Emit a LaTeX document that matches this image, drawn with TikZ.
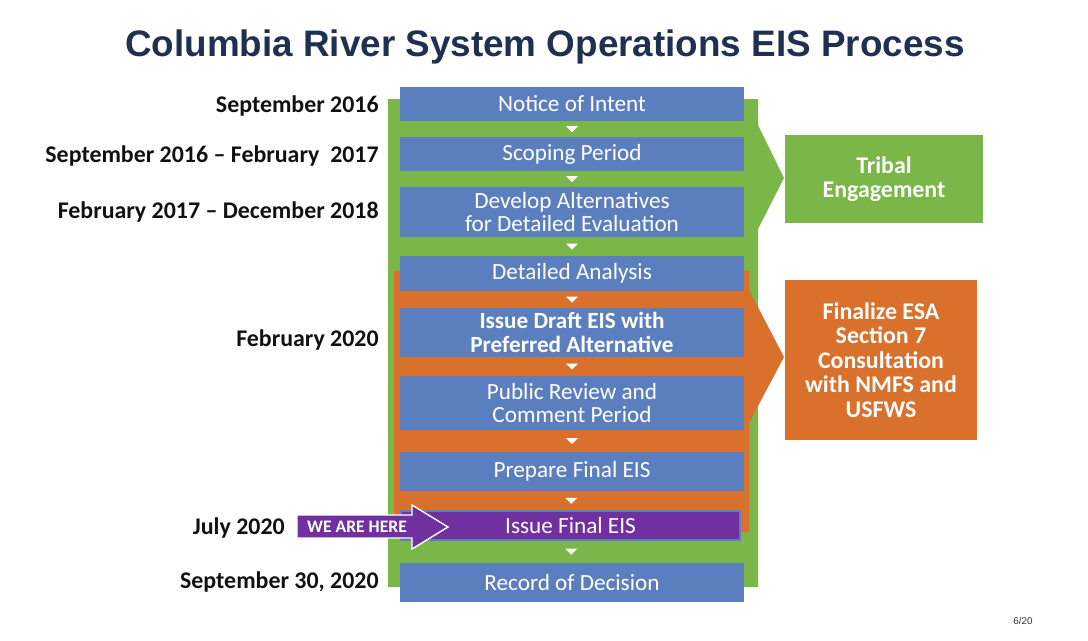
\documentclass[tikz,border=0pt]{standalone}
\usepackage{fontspec}
\setmainfont{Carlito}
\newfontfamily\titlefont{Liberation Sans}
\usetikzlibrary{positioning, calc}
\definecolor{c1}{HTML}{1F3050}
\definecolor{c2}{HTML}{5B7FBE}
\definecolor{c3}{HTML}{7AB648}
\definecolor{c4}{HTML}{D9702C}
\definecolor{c5}{HTML}{7030A0}
\definecolor{labelcolor}{HTML}{111111}

\begin{document}
\begin{tikzpicture}[x=0.025cm, y=-0.025cm,
    every node/.style={inner sep=0pt},
    stage/.style={fill=c2, text=white, minimum width=8.575cm, align=center,
                  font=\fontsize{16.5}{17}\selectfont},
    lab/.style={anchor=base east, text=labelcolor, font=\bfseries\fontsize{17}{18}\selectfont},
    side/.style={text=white, align=center, font=\bfseries\fontsize{17}{17.4}\selectfont},
]
\useasboundingbox (0,0) rectangle (1088,640);

\node[anchor=base, text=c1, font=\titlefont\bfseries\fontsize{26.2}{28}\selectfont] (title)
     at (545,56) {Columbia River System Operations EIS Process};

% the two brackets behind the stages
\fill[c3] (388,99) -- (758,99) -- (758,125) -- (784,178) -- (758,229)
          -- (758,587) -- (388,587) -- cycle;
\fill[c4] (394,271) -- (749,271) -- (749,290) -- (784,357) -- (749,423)
          -- (749,532) -- (394,532) -- cycle;

\node[stage, minimum height=0.85cm]  (noi)      at (572,104)   {Notice of Intent};
\node[stage, minimum height=0.85cm]  (scoping)  at (572,154)   {Scoping Period};
\node[stage, minimum height=1.25cm]  (alts)     at (572,212)   {Develop Alternatives\\for Detailed Evaluation};
\node[stage, minimum height=0.875cm] (analysis) at (572,273.5) {Detailed Analysis};
\node[stage, minimum height=1.225cm, font=\bfseries\fontsize{16.5}{17}\selectfont] (draft)
     at (572,332.5) {Issue Draft EIS with\\Preferred Alternative};
\node[stage, minimum height=1.35cm]  (review)   at (572,403)   {Public Review and\\Comment Period};
\node[stage, minimum height=0.975cm] (prep)     at (572,471.5) {Prepare Final EIS};
\node[stage, fill=c5, draw=c2, line width=0.8pt, minimum height=0.725cm, minimum width=8.475cm] (final)
     at (570.5,525.5) {Issue Final EIS};
\node[stage, minimum height=0.975cm] (rod)      at (572,582.5) {Record of Decision};

% small white pointers between the stages
\foreach \a/\b in {noi/scoping, scoping/alts, alts/analysis, analysis/draft,
                   draft/review, review/prep, prep/final, final/rod}{
    \fill[white] ($(\a.south)!0.5!(\b.north)$) ++(-6,-3) -- ++(12,0) -- ++(-6,6) -- cycle;}

\node[side, fill=c3, minimum width=4.95cm, minimum height=2.2cm] (tribal)
     at (884,179) {Tribal\\Engagement};
\node[side, fill=c4, minimum width=4.8cm, minimum height=4cm] (esa)
     at (881,360) {Finalize ESA\\Section 7\\Consultation\\with NMFS and\\USFWS};

\node[lab] (d1) at (379,112) {September 2016};
\node[lab] (d2) at (379,162) {September 2016 -- February\ \ 2017};
\node[lab] (d3) at (379,218) {February 2017 -- December 2018};
\node[lab] (d4) at (379,346) {February 2020};
\node[lab] (d5) at (285,534) {July 2020};
\node[lab] (d6) at (379,588) {September 30, 2020};

% the marker
\filldraw[fill=c5, draw=white, line width=1pt] (297,515) -- (412,515) -- (412,505) -- (448,527)
          -- (412,549) -- (412,538) -- (297,538) -- cycle;
\node[text=white, font=\bfseries\fontsize{12.5}{13}\selectfont] (here) at (357,526.5) {WE ARE HERE};

\node[text=black!80, font=\titlefont\fontsize{7}{8}\selectfont] (page) at (1023,621) {6/20};
\end{tikzpicture}
\end{document}
